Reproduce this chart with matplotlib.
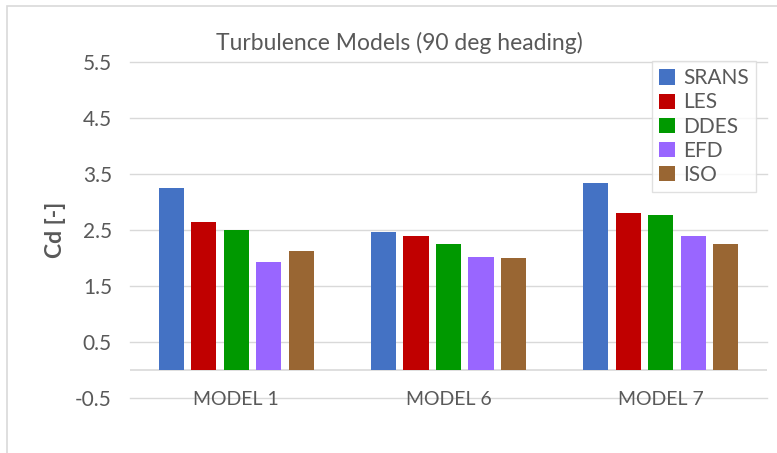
import numpy as np
import matplotlib.pyplot as plt
from matplotlib.patches import Rectangle

# data
models = ["MODEL 1", "MODEL 6", "MODEL 7"]
series = ["SRANS", "LES", "DDES", "EFD", "ISO"]
srans = [3.24, 2.46, 3.33]
les = [2.63, 2.39, 2.79]
ddes = [2.50, 2.25, 2.76]
efd = [1.93, 2.02, 2.39]
iso = [2.12, 1.99, 2.25]
yticks = [-0.5, 0.5, 1.5, 2.5, 3.5, 4.5, 5.5]

colors = ["#4472C4", "#C00000", "#009900", "#9966FF", "#996633"]
values = [srans, les, ddes, efd, iso]

plt.rcParams['font.family'] = ['Lato', 'DejaVu Sans']
text_col = "#595959"
grid_col = "#D9D9D9"

fig = plt.figure(figsize=(7.77, 4.53), dpi=100)
ax = fig.add_axes([130/777, 1 - 397.7/453, 637/777, 336/453])

x = np.arange(len(models))
pitch = 0.153
width = 0.118
for i, (name, vals) in enumerate(zip(series, values)):
    ax.bar(x + (i - 2) * pitch, vals, width, color=colors[i], label=name, zorder=3)

ax.set_xlim(-0.5, 2.5)
ax.set_ylim(-0.5, 5.5)
ax.set_yticks(yticks)
ax.set_yticklabels(["%.1f" % v for v in yticks])
ax.set_xticks(x)
ax.set_xticklabels(models)

for s in ax.spines.values():
    s.set_visible(False)
for v in yticks:
    ax.axhline(v, color=grid_col, lw=1, zorder=1, clip_on=False)
ax.axhline(0, color=grid_col, lw=1.2, zorder=2)

ax.tick_params(axis='both', length=0, colors=text_col, labelsize=14)
ax.tick_params(axis='y', pad=13, labelsize=15)
ax.tick_params(axis='x', pad=-5)

ax.set_ylabel("Cd [-]", color=text_col, fontsize=16.5, fontweight='bold')
ax.yaxis.set_label_coords(-0.10, 0.5)

fig.text(399/777, 1 - 43/453, "Turbulence Models (90 deg heading)", ha='center', va='center',
         color=text_col, fontsize=16.5)

leg = ax.legend(loc='upper right', bbox_to_anchor=(756/777, 1 - 61/453), bbox_transform=fig.transFigure,
                borderaxespad=0, fancybox=False, fontsize=15, handlelength=0.75, handleheight=0.75,
                handletextpad=0.4, labelspacing=0.2, borderpad=0.35, frameon=True)
leg.get_frame().set_edgecolor(grid_col)
leg.get_frame().set_linewidth(1)
for t in leg.get_texts():
    t.set_color(text_col)

fig.patches.append(Rectangle((7/777, -0.1), 1.0, 1 - 5.7/453 + 0.1, transform=fig.transFigure,
                             fill=False, edgecolor=grid_col, lw=1.2))

fig.savefig("out.png", dpi=100)
